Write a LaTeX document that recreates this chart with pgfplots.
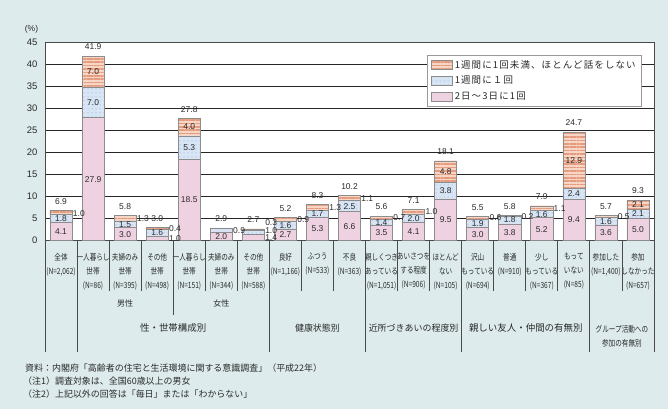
\documentclass[border=0pt]{standalone}
\usepackage{pgfplots}
\usepackage{pgfplotstable}
\pgfplotsset{compat=1.18}
\usepackage{fontspec}
\setmainfont{Liberation Sans}
\newfontfamily\cjk{Noto Sans CJK JP}
\newfontfamily\cjkc[FakeStretch=0.78]{Noto Sans CJK JP}
\newfontfamily\cjkls[LetterSpace=12]{Noto Sans CJK JP}
\usetikzlibrary{patterns.meta}

\definecolor{bgblue}{HTML}{DDEBEC}
\definecolor{pinkfill}{HTML}{EFD2E2}
\definecolor{bluefill}{HTML}{D8E5F5}
\definecolor{bluedot}{HTML}{7FA3D6}
\definecolor{orangefill}{HTML}{F8D6C6}
\definecolor{orangeline}{HTML}{E59C7E}
\definecolor{barline}{HTML}{8C8C8C}
\definecolor{sepline}{HTML}{4A4A4A}
\definecolor{labtext}{HTML}{2A2A2A}

% shares (%) of each answer, per category
\pgfplotstableread{
x pink blue orange
0 4.1 1.8 1.0
1 27.9 7.0 7.0
2 3.0 1.5 1.3
3 1.0 1.6 0.4
4 18.5 5.3 4.0
5 2.0 0.9 0.0
6 1.4 1.0 0.3
7 2.7 1.6 0.9
8 5.3 1.7 1.3
9 6.6 2.5 1.1
10 3.5 1.4 0.7
11 4.1 2.0 1.0
12 9.5 3.8 4.8
13 3.0 1.9 0.6
14 3.8 1.8 0.2
15 5.2 1.6 1.1
16 9.4 2.4 12.9
17 3.6 1.6 0.5
18 5.0 2.1 2.1
}\shares

\pgfplotstableread{
x total
0 6.9
1 41.9
2 5.8
3 3.0
4 27.8
5 2.9
6 2.7
7 5.2
8 8.3
9 10.2
10 5.6
11 7.1
12 18.1
13 5.5
14 5.8
15 7.9
16 24.7
17 5.7
18 9.3
}\totals

% value labels set inside the segments
\pgfplotstableread{
x y t
0 2.05 4.1
0 5.0 1.8
1 13.95 27.9
1 31.4 7.0
1 38.4 7.0
2 1.5 3.0
2 3.75 1.5
3 1.8 1.6
4 9.25 18.5
4 21.15 5.3
4 25.8 4.0
5 1.0 2.0
7 1.35 2.7
7 3.5 1.6
8 2.65 5.3
8 6.15 1.7
9 3.3 6.6
9 7.85 2.5
10 1.75 3.5
10 4.2 1.4
11 2.05 4.1
11 5.1 2.0
12 4.75 9.5
12 11.4 3.8
12 15.7 4.8
13 1.5 3.0
13 3.95 1.9
14 1.9 3.8
14 4.7 1.8
15 2.6 5.2
15 6.0 1.6
16 4.7 9.4
16 10.6 2.4
16 18.25 12.9
17 1.8 3.6
17 4.4 1.6
18 2.5 5.0
18 6.05 2.1
18 8.15 2.1
}\inlabels

% small segments labelled to the right of the bar
\pgfplotstableread{
x y t
0 6.1 1.0
2 5.1 1.3
3 2.8 0.4
3 0.5 1.0
5 2.3 0.9
6 4.0 0.3
6 2.4 1.0
6 0.8 1.4
7 4.8 0.9
8 7.6 1.3
9 9.6 1.1
10 5.3 0.7
11 6.6 1.0
13 5.2 0.6
14 5.4 0.2
15 7.35 1.1
17 5.5 0.5
}\sidelabels

\pgfplotsset{
  frame/.style={at={(0,0)}, anchor=south west, scale only axis,
    width=609bp, height=198.3bp,
    xmin=-0.5, xmax=18.5, ymin=0, ymax=45},
  legpatch/.style={legend image code/.code={
      \draw[##1, draw=barline, line width=0.6bp] (0bp,-4.5bp) rectangle (21bp,4.5bp);}},
}

\begin{document}
\begin{tikzpicture}
\fill[bgblue] (-45bp,-168.3bp) rectangle (623bp,240.7bp);
\useasboundingbox (-45bp,-168.3bp) rectangle (623bp,240.7bp);

\begin{axis}[frame,
  axis background/.style={fill=white},
  ybar stacked, bar width=0.69,
  ytick={0,5,...,45},
  xtick={0,...,18},
  tick style={draw=none},
  ymajorgrids, grid style={draw=black!85, line width=0.7bp},
  axis line style={draw=sepline, line width=0.8bp},
  /pgf/number format/assume math mode=true,
  yticklabel style={font=\fontsize{9.5}{11}\selectfont, text=labtext, anchor=east, xshift=-4bp},
  xticklabel style={font=\cjkc\fontsize{8.5}{14}\selectfont, text=labtext, align=center, anchor=north, yshift=-9bp},
  xticklabels={
    {全体\\(N=2,062)},
    {一人暮らし\\世帯\\(N=86)},
    {夫婦のみ\\世帯\\(N=395)},
    {その他\\世帯\\(N=498)},
    {一人暮らし\\世帯\\(N=151)},
    {夫婦のみ\\世帯\\(N=344)},
    {その他\\世帯\\(N=588)},
    {良好\\(N=1,166)},
    {ふつう\\(N=533)},
    {不良\\(N=363)},
    {親しくつき\\あっている\\(N=1,051)},
    {あいさつを\\する程度\\(N=906)},
    {ほとんど\\ない\\(N=105)},
    {沢山\\もっている\\(N=694)},
    {普通\\(N=910)},
    {少し\\もっている\\(N=367)},
    {もって\\いない\\(N=85)},
    {参加した\\(N=1,400)},
    {参加\\しなかった\\(N=657)}},
  reverse legend,
  legend style={at={(0.9803,0.9365)}, anchor=north east, draw=gray!80,
    fill=white, line width=0.6bp, font=\cjkls\fontsize{9.5}{11}\selectfont,
    text=labtext, cells={anchor=west}, row sep=2.5bp, inner xsep=4bp, inner ysep=3bp},
]
\addplot[legpatch, fill=pinkfill, draw=barline, line width=0.6bp]
  table[x=x, y=pink]{\shares};
\addlegendentry{2日～3日に1回}
\addplot[legpatch, fill=bluefill, draw=barline, line width=0.6bp,
  postaction={pattern={Dots[distance=4bp, radius=0.5bp]}, pattern color=bluedot}]
  table[x=x, y=blue]{\shares};
\addlegendentry{1週間に１回}
\addplot[legpatch, fill=orangefill, draw=barline, line width=0.6bp,
  postaction={pattern={Lines[angle=0, distance=3.4bp, line width=1.5bp]}, pattern color=orangeline}]
  table[x=x, y=orange]{\shares};
\addlegendentry{1週間に1回未満、ほとんど話をしない}
\end{axis}

\begin{axis}[frame, hide axis, clip=false]
\addplot[only marks, mark=none, point meta=explicit symbolic,
  nodes near coords, nodes near coords align=center,
  nodes near coords style={anchor=center, font=\fontsize{8.5}{10}\selectfont, text=labtext}]
  table[x=x, y=y, meta=t]{\inlabels};
\addplot[only marks, mark=none, point meta=explicit symbolic,
  nodes near coords, nodes near coords align=center,
  nodes near coords style={anchor=west, font=\fontsize{8.5}{10}\selectfont, text=labtext, inner xsep=0.5bp}]
  table[x expr=\thisrow{x}+0.35, y=y, meta=t]{\sidelabels};
\addplot[only marks, mark=none, point meta=explicit symbolic,
  nodes near coords, nodes near coords align=center,
  nodes near coords style={anchor=center, yshift=9bp, font=\fontsize{8.5}{10}\selectfont, text=labtext}]
  table[x=x, y=total, meta=total]{\totals};

% separators under the category names
\pgfplotsinvokeforeach{1.5,2.5,4.5,5.5,7.5,8.5,10.5,11.5,13.5,14.5,15.5,17.5}{
  \draw[sepline, line width=0.8bp] (axis cs:#1,0) -- (axis cs:#1,-11.35);}
\draw[sepline, line width=0.8bp] (axis cs:3.5,0) -- (axis cs:3.5,-16.86);
\pgfplotsinvokeforeach{-0.5,0.5,6.5,9.5,12.5,16.5,18.5}{
  \draw[sepline, line width=0.8bp] (axis cs:#1,0) -- (axis cs:#1,-25.21);}

\node[font=\cjk\fontsize{8}{10}\selectfont, text=labtext] at (axis cs:2,-14.2) {男性};
\node[font=\cjk\fontsize{8}{10}\selectfont, text=labtext] at (axis cs:5,-14.2) {女性};
\node[font=\cjk\fontsize{9.5}{11}\selectfont, text=labtext] at (axis cs:3.5,-19.8) {性・世帯構成別};
\node[font=\cjk\fontsize{9}{11}\selectfont, text=labtext] at (axis cs:8,-19.8) {健康状態別};
\node[font=\cjk\fontsize{9}{11}\selectfont, text=labtext] at (axis cs:11,-19.8) {近所づきあいの程度別};
\node[font=\cjk\fontsize{9.5}{11}\selectfont, text=labtext] at (axis cs:14.5,-19.8) {親しい友人・仲間の有無別};
\node[font=\cjkc\fontsize{8.5}{14}\selectfont, text=labtext, align=center, anchor=north]
  at (axis cs:17.5,-18.4) {グループ活動への\\参加の有無別};
\end{axis}

\node[font=\fontsize{8.5}{10}\selectfont, text=labtext] at (-13.5bp,211.4bp) {(\%)};
\begin{scope}[every node/.style={anchor=west, font=\cjk\fontsize{9}{10}\selectfont, text=labtext, inner sep=0pt}]
\node at (-20bp,-127.3bp) {資料：内閣府「高齢者の住宅と生活環境に関する意識調査」（平成22年）};
\node at (-22bp,-140.3bp) {（注1）調査対象は、全国60歳以上の男女};
\node at (-22bp,-153.3bp) {（注2）上記以外の回答は「毎日」または「わからない」};
\end{scope}
\end{tikzpicture}
\end{document}
